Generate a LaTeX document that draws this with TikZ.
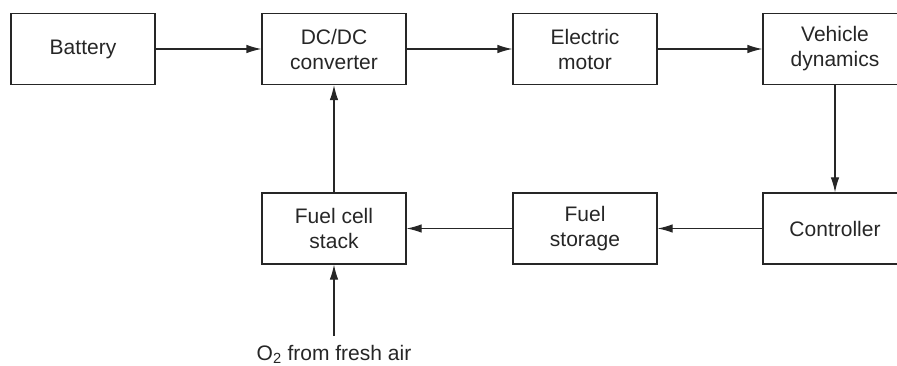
\documentclass[tikz,border=0pt]{standalone}
\usepackage{fontspec}
\setmainfont{Liberation Sans}
\usetikzlibrary{arrows.meta}
\begin{document}
\begin{tikzpicture}[x=1pt,y=-1pt,
  blk/.style={draw=black!85, line width=1.2pt, minimum width=144pt, minimum height=71pt,
    inner sep=0pt, align=center, text=black!85, font=\fontsize{21}{25}\selectfont},
  conn/.style={draw=black!85, line width=1.2pt, -{Latex[length=15pt,width=8.5pt]}}]
\useasboundingbox (0,0) rectangle (897,366);
\node[blk] (bat) at (83,49) {Battery};
\node[blk] (dcdc) at (334,49) {DC/DC\\converter};
\node[blk] (mot) at (585,49) {Electric\\motor};
\node[blk] (veh) at (835,49) {Vehicle\\dynamics};
\node[blk] (ctl) at (835,228.5) {Controller};
\node[blk] (fst) at (585,228.5) {Fuel\\storage};
\node[blk] (fcs) at (334,228.5) {Fuel cell\\stack};
\node[text=black!85, font=\fontsize{21}{25}\selectfont, inner sep=0pt] (o2) at (334,354) {O\textsubscript{2} from fresh air};
\coordinate (o2top) at (334,336);
\draw[conn] (bat) -- (dcdc);
\draw[conn] (dcdc) -- (mot);
\draw[conn] (mot) -- (veh);
\draw[conn] (veh) -- (ctl);
\draw[conn] (ctl) -- (fst);
\draw[conn] (fst) -- (fcs);
\draw[conn] (fcs) -- (dcdc);
\draw[conn] (o2top) -- (fcs);
\end{tikzpicture}
\end{document}
